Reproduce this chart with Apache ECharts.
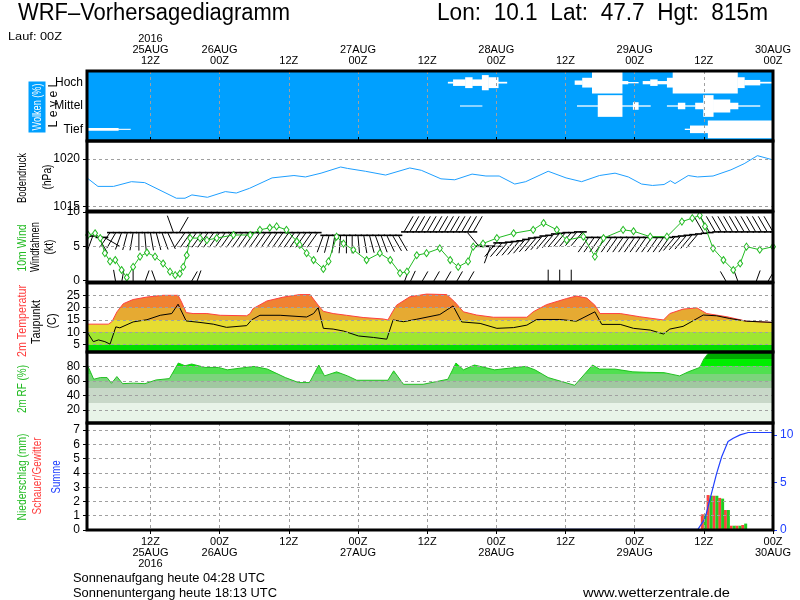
<!DOCTYPE html>
<html><head><meta charset="utf-8">
<script src="https://cdn.jsdelivr.net/npm/echarts@6/dist/echarts.min.js"></script>
<style>html,body{margin:0;padding:0;background:#fff}#c{width:800px;height:600px}</style>
</head><body><div id="c"></div>
<script>
// ---------------- DATA ----------------
const tickHours = [12,24,36,48,60,72,84,96,108,120];
const topTickLabels = ['2016\n25AUG\n12Z','26AUG\n00Z','12Z','27AUG\n00Z','12Z','28AUG\n00Z','12Z','29AUG\n00Z','12Z','30AUG\n00Z'];
const bottomTickLabels = ['12Z\n25AUG\n2016','00Z\n26AUG','12Z','00Z\n27AUG','12Z','00Z\n28AUG','12Z','00Z\n29AUG','12Z','00Z\n30AUG'];
const cloudLevels = ['Tief','Mittel','Hoch'];
// cloud patches [fromHour, toHour, cover %]
const cloudHigh = [[63.6,64.5,8],[64.5,66.6,30],[66.6,67.8,50],[67.8,69.5,30],[69.5,70.6,70],[70.6,72.3,50],[72.3,73.8,8],
  [85.6,86.9,20],[86.9,88.6,45],[88.6,93.8,100],[93.8,94.8,15],[94.8,96.6,6],[97.4,98.7,15],[98.7,99.9,30],[99.9,101.6,15],
  [101.6,102.6,45],[102.6,113.8,100],[113.8,115,50],[115,117.7,25],[117.7,120.1,8]];
const cloudMid = [[65.7,69.5,5],[86,89.6,6],[89.6,93.8,100],[93.8,95.7,6],[95.7,96.6,35],[96.6,98.7,6],[101.6,103.5,6],
  [103.5,104.7,30],[104.7,106.5,6],[106.5,107.9,30],[107.9,109.6,100],[109.6,112.5,60],[112.5,113.9,30],[113.9,117.7,6]];
const cloudLow = [[0.5,6.4,12],[6.4,8.5,5],[104.7,105.6,6],[105.6,108.7,35],[108.7,120.1,82]];

const presH = [1,2.9,5.6,8.7,11,16.5,18,19.2,21.9,25,26.9,29.2,33.1,36.9,38.9,41.6,45,46.2,49.3,52.8,57,59,62.4,64.8,67.8,70.2,72.5,75.2,77.1,81,84.1,86.8,89.9,92.6,94.9,97.2,99.1,101.1,102.2,103,105.3,106.9,109.6,112.7,115,117.3,118.8,120];
const presV = [1018.0,1017.1,1017.1,1017.6,1017.5,1015.85,1015.85,1016.2,1015.95,1016.55,1016.4,1016.9,1018.0,1018.25,1018.1,1018.5,1019.15,1019.0,1018.7,1018.3,1019.05,1018.8,1017.9,1017.8,1018.4,1018.2,1018.2,1017.35,1017.6,1018.7,1018.0,1017.6,1018.25,1018.5,1018.1,1017.35,1017.2,1017.3,1017.7,1017.4,1018.25,1018.1,1018.2,1018.85,1019.5,1020.35,1020.1,1019.9];

const windH = [1.2,2.4,3.3,4.1,5,5.9,7,7.9,9,10.2,11.4,12.8,14.2,15.4,16.3,17.1,17.7,18.3,18.9,20.6,21.8,23.5,26.4,29.3,31,32.7,33.9,35.6,37.4,37.9,39.1,40.3,42,42.9,44.3,45.5,47.2,49.5,51.8,53.6,55.3,56.5,58.2,59.9,62.2,64,65.4,67.1,68,69.7,72.1,75,78.4,80.2,82.5,84.2,87.1,89.1,90.6,94,95.8,98.7,101.6,104.2,106,107.3,108.2,109.6,111.4,113.1,114.3,115.4,117.7,120];
const windV = [6.65,6.9,6.2,4,2.8,3,1.55,0.45,2,3.5,4.1,3.5,2.5,1.3,0.8,1,2,3.7,6.2,6.2,5.9,6.2,6.65,6.65,7.4,7.7,7.9,7.4,5.7,5.2,4,3,1.7,2.8,6.4,5.4,4.5,3,4,3,1.1,1.3,3.7,4,4.7,3,2,2.8,4.95,5.4,6.2,6.9,7.4,8.4,7.4,5.9,6.4,3.5,6.2,7.4,7.2,6.4,6.4,8.6,9.1,9.5,7.9,4.7,3,1.55,2.5,4.95,4.5,4.95];

// wind barbs (hourly): anchor position (kt axis) and direction (deg, wind from)
const barbH = [1,2,3,4,5,6,7,8,9,10,11,12,13,14,15,16,17,18,19,20,21,22,23,24,25,26,27,28,29,30,31,32,33,34,35,36,37,38,39,40,
  41,42,43,44,45,46,47,48,49,50,51,52,53,54,55,56,57,58,59,60,61,62,63,64,65,66,67,68,69,70,71,72,73,74,75,76,77,78,79,80,
  81,82,83,84,85,86,87,88,89,90,91,92,93,94,95,96,97,98,99,100,101,102,103,104,105,106,107,108,109,110,111,112,113,114,115,116,117,118,119,120];
const barbBase = [6.5,6.5,6.3,6.3, 7,7,7,7,7,7,7,7,7,7,7, 7,7,
  7,7,7,7,7,7,7,7,7,7,7,7,7,7,7,7,7,7,7,7,7,7,7,7,
  6.6,6.6,6.6,6.6,6.6,6.6,6.6,6.6,6.6,6.6,6.6,6.6,6.6,6.6,
  7.1,7.1,7.1,7.1,7.1,7.1,7.1,7.1,7.1,7.1,7.1,7.1,7.1,
  5,5,5,
  5.5,5.5,5.6,5.7,5.8,6.0,6.2,6.3,6.5,6.6,6.8,6.9,7.0,7.0,7.1,7.1,
  6.3,6.3,6.3,6.3,6.3,6.3,6.3,6.3,6.3,6.3,6.3,6.3,6.3,6.3,6.3,
  6.4,6.5,6.6,6.7,6.8,6.9,7.0,7.1,
  7.1,7.1,7.1,7.1,7.1,7.1,7.1,7.1,7.1,7.1];
const barbDir = [250,200,150,120, 215,210,200,195,190,180,175,170,165,160,155, 340,30,
  215,215,215,215,215,215,215,215,215,215,215,215,215,215,215,215,215,215,215,215,215,215,215,215,
  200,195,190,185,180,180,175,170,165,160,160,155,150,150,
  30,30,30,30,30,30,30,30,30,30,30,30,30,
  320,90,200,
  220,220,220,220,220,220,220,220,220,220,220,220,220,220,220,220,
  215,215,215,215,215,215,215,215,215,215,215,215,215,215,215,
  220,220,220,220,220,330,330,330,
  330,330,330,330,330,330,330,330,330,330];
// short barbs standing on the bottom of the wind panel
const lowBarbH = [6,7,9,11,13,19,20,56,57,59,61,63,65,67,81,83,85,112,114,117,119];
const lowBarbDir = [350,10,0,20,340,30,20,20,25,30,30,30,30,30,0,0,0,330,340,20,30];

const tempH = [1,4.7,5.3,6.2,7.3,9,11.4,14.2,16.8,17.4,18.2,19.4,21.8,24.1,28.7,29.3,29.8,32.2,35.1,37.9,39.7,41.1,42,43.7,46,48.9,52.4,53.2,54,54.7,57,59.9,63.4,64.8,66.3,68.6,71.5,77.3,78.4,80.7,84.2,85.9,87.7,89.1,90,93.5,96.9,101,102.1,104.4,106.8,108.5,112,115.4,120];
const tempV = [13.3,13.3,14.2,18.3,21.6,23.3,24.3,25,25,22.3,18,17.6,17.6,16.9,16.7,17.6,19.6,22.7,24.3,25.3,25.3,21,18.5,17.6,16.9,16,15.4,15,18.3,21,24.4,25.5,25.3,22.3,18.3,17,16.1,16.1,18.3,21.2,23.7,24.7,23.9,21,17.6,17.6,16.3,15,17.6,19.4,19.9,17.6,16.3,14.5,14];
const dewH = [1,2.1,3,4.1,5,6,6.7,9,11.4,13.7,15.7,16.8,18.2,20.6,22.9,25.2,28.7,29.6,31,34.5,39.1,40.3,41.1,42,43.7,45.5,48.1,50.7,53,54.1,55.9,58.2,62.2,64.5,66,69.2,72.1,75,77.3,79,83,85.9,89.1,90.3,93.5,95.8,98.7,101,102.1,104.4,107.9,110.2,112.5,115.4,120];
const dewV = [10.2,6.2,6.9,6.2,5.2,12.2,11.8,14.2,15.1,16.9,17.6,21.4,14.6,14,13.3,12,12.7,15.1,16.9,16.9,16.2,17.6,20,11.6,11.3,10.5,8.5,7.9,7.2,15,14.3,15.3,17.2,20.7,14.2,13.6,11.6,11.9,12.9,15.2,15.2,14.5,18.3,13.2,13.2,11.6,10.9,9.3,11.3,12.4,17,16.7,15.6,14.5,14];

const rhH = [1,2.16,3.32,4.48,5.25,6.18,7.18,9.11,11.05,12.98,15.3,16.84,18,19.16,21.48,23.8,25.34,29.98,32.3,35.4,37.7,39.6,41.2,42.2,44.3,46.2,47.8,53.2,54.2,55.9,59.3,63.6,65,66.3,68.2,71.7,77.1,78.7,81,85.6,88.7,89.9,92.6,95.7,98,101.1,103.8,105.3,107.3,108,108.8,110.4,120];
const rhV = [83.4,62.4,64.7,64.7,56.8,66.1,56.3,57,56.3,61.4,63.3,84.8,81,83.4,78.7,78.7,75.4,80.1,76.4,64.7,57.8,57.8,82,67,72.6,67,61,61,74,55.4,55.4,62.4,84.8,75.4,82,75.4,80.1,75.4,64.7,54,82,76.4,76.4,72.6,72,71.5,67,72.6,78.7,90.3,98.7,100,100];

const precipH = [108,109,110,111,112,113,114,115];
const precipTotal = [1.1,2.4,2.4,2.2,1.4,0.3,0.3,0.45];
const precipConv = [1.1,2.45,2.4,2.25,1.4,0.3,0.3,0.35];
const sumH = [1,107,108.2,108.8,109.4,110.2,111.1,112.2,113.1,114.3,115.7,120];
const sumV = [0,0.1,1.2,2.6,4,5.9,7.7,9.3,9.65,10,10.25,10.25];

// ---------------- LAYOUT / STYLE ----------------
const LEFT = 87, RIGHT = 27, W = 800 - LEFT - RIGHT;
const G = [{top:71,h:70},{top:141,h:70},{top:212,h:70},{top:283,h:69},{top:352,h:71},{top:423,h:107}];
const Y = [
  {min:0,max:3},{min:1014.5,max:1021.9},{min:-0.2,max:10},{min:2,max:30},{min:2,max:100},{min:0,max:7.5}
];
const FONT = 'Liberation Sans';
const GRID_LINE = {color:'#a0a0a0', type:[3,3], width:1};
const zip = (a,b) => a.map((v,i)=>[v,b[i]]);

function bandGradient(gi, bands){
  const g = G[gi], y = Y[gi], span = y.max - y.min;
  const clamp = v => Math.min(1, Math.max(0, v));
  const stops = [];
  bands.slice().sort((a,b)=>b[1]-a[1]).forEach(b => {
    stops.push({offset:clamp((y.max - b[1])/span), color:b[2]});
    stops.push({offset:clamp((y.max - b[0])/span), color:b[2]});
  });
  return {type:'linear',x:0,y:g.top,x2:0,y2:g.top+g.h,global:true,colorStops:stops};
}
const tempBands = [[-10,5,'#00dc00'],[5,10,'#a0e632'],[10,15,'#e6dc32'],[15,20,'#e6aa32'],[20,40,'#f08232']];
const rhBands = [[-10,30,'#e8f4e8'],[30,50,'#c8d8c8'],[50,60,'#a0c8a0'],[60,70,'#7cd47c'],[70,80,'#50e050'],[80,90,'#00ee00'],[90,110,'#00aa00']];

// text helpers
const mctx = document.createElement('canvas').getContext('2d');
function txt(text, x, y, size, color, len, opt){
  opt = opt || {};
  const font = size+'px "'+(opt.family||FONT)+'"';
  mctx.font = font;
  const w = mctx.measureText(text).width;
  const s = len ? len / w : 1;
  const st = {text:text, font:font, fill:color, align:opt.align||'center', verticalAlign:'middle'};
  if (opt.bg) { st.backgroundColor = opt.bg; st.padding = opt.pad || [1,3]; }
  return {type:'text', x:x, y:y, rotation: opt.rot ? Math.PI/2 : 0, scaleX:s, scaleY:1, style:st, z:200, silent:true};
}

// ---------------- OPTION ----------------
const grids = G.map((g,i)=>({left:LEFT, width:W, top:g.top, height:g.h, show:i===0, backgroundColor:i===0?'#00a0ff':'transparent', borderWidth:0, containLabel:false}));

const xAxes = G.map((g,i)=>{
  const ax = {type:'value', gridIndex:i, min:1, max:120, z:10,
    axisLine:{show:false},
    axisTick:{show:false, customValues:tickHours},
    axisLabel:{show:false, customValues:tickHours},
    splitLine:{show:false}};
  if (i===0 || i===5) {
    ax.position = i===0 ? 'top' : 'bottom';
    ax.axisTick = {show:true, customValues:tickHours, length:4, lineStyle:{color:'#000',width:1}};
    const arr = i===0 ? topTickLabels : bottomTickLabels;
    ax.axisLabel = {show:true, customValues:tickHours, fontFamily:FONT, fontSize:11, lineHeight:11, color:'#000', margin:i===0?5:6,
      formatter:(v)=>arr[tickHours.indexOf(Math.round(v))] || ''};
    ax.splitLine = {show:true, lineStyle:GRID_LINE};
  }
  return ax;
});

const yTickVals = [[0.5,1.5,2.5],[1015,1020],[0,5,10],[5,10,15,20,25],[20,40,60,80],[0,1,2,3,4,5,6,7]];
const yGridVals = [[],[1015,1020],[5,10],[5,10,15,20,25],[20,40,60,80],[1,2,3,4,5,6,7]];
const yAxes = G.map((g,i)=>({type:'value', gridIndex:i, min:Y[i].min, max:Y[i].max, z:10,
  axisLine:{show:false},
  axisTick:{show:i!==0, customValues:yTickVals[i], length:4, lineStyle:{color:'#000'}},
  axisLabel:{show:true, customValues:yTickVals[i], fontFamily:FONT, fontSize:12, color:'#000', margin:i===0?4:7,
    formatter: i===0 ? (v)=>cloudLevels[Math.floor(v)] : (v)=>String(Math.round(v))},
  splitLine:{show:false}
}));
yAxes.push({type:'value', gridIndex:5, position:'right', min:0, max:11.25, z:10,
  axisLine:{show:false},
  axisTick:{show:true, customValues:[0,5,10], length:4, lineStyle:{color:'#2040ff'}},
  axisLabel:{show:true, customValues:[0,5,10], fontFamily:FONT, fontSize:12, color:'#2040ff', margin:7},
  splitLine:{show:false}});

function hLines(gi){
  return {type:'line', xAxisIndex:gi, yAxisIndex:gi, data:[], silent:true, z:8,
    markLine:{silent:true, symbol:'none', label:{show:false}, lineStyle:GRID_LINE, animation:false,
      data: yGridVals[gi].map(v=>({yAxis:v}))}};
}

const cloudData = [];
[cloudLow, cloudMid, cloudHigh].forEach((arr,lvl)=>arr.forEach(s=>cloudData.push([s[0], s[1], lvl+0.5, s[2]])));

function cloudItem(params, api){
  const a = api.coord([api.value(0), api.value(2)]);
  const b = api.coord([api.value(1), api.value(2)]);
  const band = api.size([0,1])[1];
  const hgt = Math.max(1, api.value(3)/100*band*0.93);
  return {type:'rect', shape:{x:a[0], y:a[1]-hgt/2, width:b[0]-a[0]+0.5, height:hgt}, style:{fill:'#fff'}};
}

function makeBarbItem(len, withFeather){
  return function(params, api){
    const p = api.coord([api.value(0), api.value(1)]);
    const r = api.value(2)*Math.PI/180;
    const ux = Math.sin(r), uy = -Math.cos(r);
    const tip = [p[0]+ux*len, p[1]+uy*len];
    const ch = [{type:'line', shape:{x1:p[0],y1:p[1],x2:tip[0],y2:tip[1]}, style:{stroke:'#000',lineWidth:1}}];
    if (withFeather) ch.push({type:'line', shape:{x1:p[0]-3,y1:p[1],x2:p[0]+4,y2:p[1]}, style:{stroke:'#000',lineWidth:1.6}});
    return {type:'group', children:ch};
  };
}

const series = [
  {type:'custom', xAxisIndex:0, yAxisIndex:0, renderItem:cloudItem, data:cloudData, clip:true, silent:true, z:3},
  {type:'line', xAxisIndex:1, yAxisIndex:1, data:zip(presH,presV), symbol:'none', lineStyle:{color:'#1e9fff',width:1}, z:3},
  hLines(1),
  {type:'custom', xAxisIndex:2, yAxisIndex:2, renderItem:makeBarbItem(18,true), clip:true, silent:true, z:3,
    data: barbH.map((h,i)=>[h, barbBase[i], barbDir[i]])},
  {type:'custom', xAxisIndex:2, yAxisIndex:2, renderItem:makeBarbItem(13,false), clip:true, silent:true, z:3,
    data: lowBarbH.map((h,i)=>[h, -0.3, lowBarbDir[i]])},
  {type:'line', xAxisIndex:2, yAxisIndex:2, data:zip(windH,windV), symbol:'diamond', symbolSize:[5,7], showSymbol:true,
    lineStyle:{color:'#22bb22',width:1}, itemStyle:{color:'#fff',borderColor:'#22bb22',borderWidth:1}, z:4},
  hLines(2),
  {type:'line', xAxisIndex:3, yAxisIndex:3, data:zip(tempH,tempV), symbol:'none', lineStyle:{color:'#ff4040',width:1},
    areaStyle:{origin:'start', color:bandGradient(3,tempBands), opacity:1}, z:3},
  {type:'line', xAxisIndex:3, yAxisIndex:3, data:zip(dewH,dewV), symbol:'none', lineStyle:{color:'#000',width:1}, z:4},
  hLines(3),
  {type:'line', xAxisIndex:4, yAxisIndex:4, data:zip(rhH,rhV), symbol:'none', lineStyle:{color:'#22c022',width:1},
    areaStyle:{origin:'start', color:bandGradient(4,rhBands), opacity:1}, z:3},
  hLines(4),
  {type:'bar', xAxisIndex:5, yAxisIndex:5, data:zip(precipH,precipConv), barWidth:3, barGap:'0%', itemStyle:{color:'#ff4040'}, z:3},
  {type:'bar', xAxisIndex:5, yAxisIndex:5, data:zip(precipH,precipTotal), barWidth:3, barGap:'0%', itemStyle:{color:'#22cc22'}, z:3},
  {type:'line', xAxisIndex:5, yAxisIndex:6, data:zip(sumH,sumV), symbol:'none', lineStyle:{color:'#2040ff',width:1.2}, z:5},
  hLines(5)
];

const graphics = [];
G.forEach(g=>graphics.push({type:'rect', shape:{x:LEFT, y:g.top, width:W, height:g.h}, style:{fill:null, stroke:'#000', lineWidth:3}, z:150, silent:true}));
graphics.push(
  txt('WRF\u2013Vorhersagediagramm', 18, 14, 23, '#000', 272, {align:'left'}),
  txt('Lon:  10.1  Lat:  47.7  Hgt:  815m', 437, 14, 23, '#000', 331, {align:'left'}),
  txt('Lauf: 00Z', 8, 37, 11, '#000', 54, {align:'left'}),
  txt('Wolken (%)', 37, 107, 13, '#fff', 47, {rot:true, bg:'#00a0ff', pad:[2,3]}),
  txt('L e v e l', 54, 106, 12, '#000', 43, {rot:true}),
  txt('Bodendruck', 22, 178, 13, '#000', 50, {rot:true}),
  txt('(hPa)', 47, 177, 13, '#000', 25, {rot:true}),
  txt('10m Wind', 22, 248, 13, '#22bb22', 47, {rot:true}),
  txt('Windfahnen', 35, 247, 13, '#000', 50, {rot:true}),
  txt('(kt)', 49, 247, 13, '#000', 15, {rot:true}),
  txt('2m Temperatur', 22, 321, 13, '#ff3c3c', 72, {rot:true}),
  txt('Taupunkt', 36, 322, 13, '#000', 44, {rot:true}),
  txt('(C)', 52, 321, 13, '#000', 15, {rot:true}),
  txt('2m RF (%)', 22, 389, 13, '#22bb22', 48, {rot:true}),
  txt('Niederschlag (mm)', 22, 477, 13, '#22bb22', 87, {rot:true}),
  txt('Schauer/Gewitter', 37, 476, 13, '#ff3c3c', 77, {rot:true}),
  txt('Summe', 56, 477, 13, '#2040ff', 33, {rot:true}),
  txt('Sonnenaufgang heute 04:28 UTC', 73, 578, 13, '#000', 192, {align:'left'}),
  txt('Sonnenuntergang heute 18:13 UTC', 73, 593, 13, '#000', 204, {align:'left'}),
  txt('www.wetterzentrale.de', 583, 593, 13, '#000', 147, {align:'left'})
);

const chart = echarts.init(document.getElementById('c'), null, {renderer:'canvas'});
chart.setOption({
  animation:false,
  backgroundColor:'#fff',
  grid:grids, xAxis:xAxes, yAxis:yAxes, series:series, graphic:graphics
});
</script></body></html>
